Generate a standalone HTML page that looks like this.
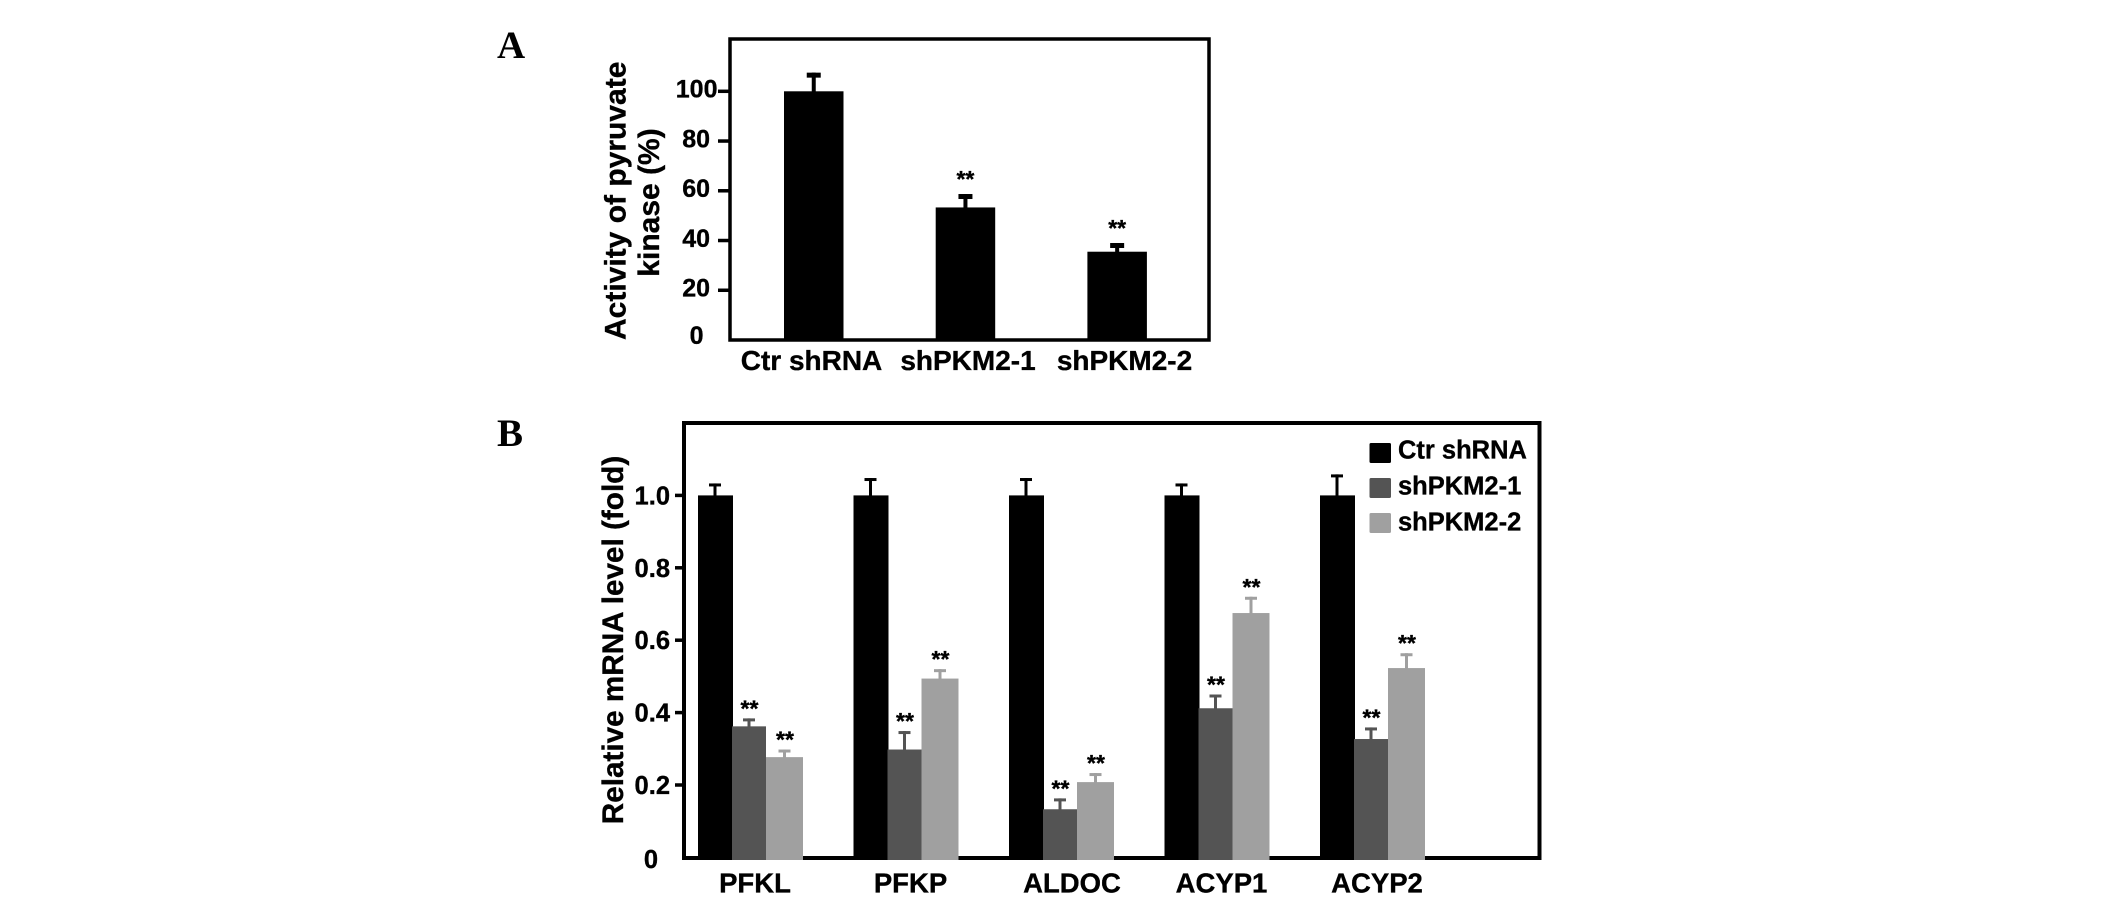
<!DOCTYPE html>
<html lang="en">
<head>
<meta charset="utf-8">
<title>Pyruvate kinase activity and relative mRNA level</title>
<style>
html,body{margin:0;padding:0;background:#fff;}
body{width:2126px;height:903px;overflow:hidden;}
svg{display:block;}
text{font-family:"Liberation Sans",Arial,sans-serif;font-weight:700;fill:#000;stroke:#000;stroke-width:0.35px;}
.panel{font-family:"Liberation Serif","Times New Roman",serif;font-size:39px;stroke-width:0;}
</style>
</head>
<body>
<svg id="figure" xmlns="http://www.w3.org/2000/svg" width="2126" height="903" viewBox="0 0 2126 903">
  <text class="panel" x="497" y="58">A</text>
  <text class="panel" x="497" y="446">B</text>
  <g id="chart-a"></g>
  <g id="chart-b"></g>
</svg>
<script>
// Panel A data
const catsA = ['Ctr shRNA', 'shPKM2-1', 'shPKM2-2'];
const valuesA = [100, 53.3, 35.5];
const errorTopsA = [107.5, 58.7, 39];
const sigA = [false, true, true];
const ticksA = [0, 20, 40, 60, 80, 100];

// Panel B data
const catsB = ['PFKL', 'PFKP', 'ALDOC', 'ACYP1', 'ACYP2'];
const seriesNames = ['Ctr shRNA', 'shPKM2-1', 'shPKM2-2'];
const ctrValues = [1, 1, 1, 1, 1];
const ctrErrorTops = [1.033, 1.048, 1.048, 1.033, 1.058];
const pkm1Values = [0.362, 0.298, 0.133, 0.412, 0.327];
const pkm1ErrorTops = [0.384, 0.349, 0.163, 0.45, 0.359];
const pkm2Values = [0.277, 0.494, 0.208, 0.675, 0.523];
const pkm2ErrorTops = [0.298, 0.52, 0.233, 0.72, 0.564];
const ticksB = [0, 0.2, 0.4, 0.6, 0.8, 1.0];

const SVGNS = 'http://www.w3.org/2000/svg';
const DARK = '#545454', LIGHT = '#a0a0a0';

function rect(parent, x, y, w, h, fill) {
  const r = document.createElementNS(SVGNS, 'rect');
  r.setAttribute('x', x); r.setAttribute('y', y);
  r.setAttribute('width', w); r.setAttribute('height', h);
  r.setAttribute('fill', fill);
  parent.appendChild(r);
  return r;
}
function label(parent, str, x, y, size, anchor, rotate) {
  const t = document.createElementNS(SVGNS, 'text');
  t.textContent = str;
  t.setAttribute('x', x); t.setAttribute('y', y);
  t.setAttribute('font-size', size);
  t.setAttribute('text-anchor', anchor);
  if (rotate) t.setAttribute('transform', 'rotate(-90 ' + x + ' ' + y + ')');
  parent.appendChild(t);
  return t;
}
function errorBar(parent, cx, yTop, yBase, capW, capH, stemW, color) {
  const s = rect(parent, cx - stemW / 2, yTop, stemW, yBase - yTop + 1, color);
  
  
  const c = rect(parent, cx - capW / 2, yTop, capW, capH, color);
  
  
}
function frame(parent, l, t, r, b, w) {
  const f = document.createElementNS(SVGNS, 'rect');
  f.setAttribute('x', l); f.setAttribute('y', t);
  f.setAttribute('width', r - l); f.setAttribute('height', b - t);
  f.setAttribute('fill', 'none');
  f.setAttribute('stroke', '#000');
  f.setAttribute('stroke-width', w);
  
  
  parent.appendChild(f);
}

/* ---------- Panel A ---------- */
const gA = document.getElementById('chart-a');
const yA = v => 340 - v * 2.487;
const xA = i => 784 + i * 151.7;
const barWA = 59.5;

frame(gA, 730, 39, 1209, 340, 3.5);

ticksA.forEach(function (v) {
  if (v !== 0) {
    const tk = rect(gA, 718, yA(v) - 1.75, 11, 3.5, '#000');
    
    
  }
  const lx = v === 100 ? 717.5 : (v === 0 ? 703.5 : 710);
  const t = label(gA, String(v), lx, yA(v) + (v === 0 ? 4 : 6.3), 25, 'end');
  
  
});

catsA.forEach(function (c, i) {
  const b = rect(gA, xA(i), yA(valuesA[i]), barWA, 340 - yA(valuesA[i]), '#000');
  
  
  const cx = xA(i) + barWA / 2;
  errorBar(gA, cx, yA(errorTopsA[i]), yA(valuesA[i]), 14, 5, 4, '#000');
  if (sigA[i]) {
    const s = label(gA, '**', cx, yA(errorTopsA[i]) - 7, 23, 'middle');
    
    
  }
  const t = label(gA, c, 811.5 + i * 156.5, 370, 28, 'middle');
  
  
});

const titleA1 = label(gA, 'Activity of pyruvate', 625.5, 340, 30, 'start', true);


const titleA2 = label(gA, 'kinase (%)', 659, 202.5, 30, 'middle', true);



/* ---------- Panel B ---------- */
const gB = document.getElementById('chart-b');
const yB = v => 857.4 - v * 362;
const groupX = i => 698 + i * 155.5;
const barWB = 34;
const lightW = 37;

frame(gB, 684, 423, 1539.5, 858, 4);

ticksB.forEach(function (v) {
  if (v !== 0) {
    const tk = rect(gB, 675, yB(v) - 1.75, 9, 3.5, '#000');
    
    
  }
  const txt = v === 0 ? '0' : v.toFixed(1);
  const t = label(gB, txt, v === 0 ? 658 : 670, yB(v) + (v === 0 ? 10.5 : 9), 25.5, 'end');
  
  
});

catsB.forEach(function (c, i) {
  const g0 = groupX(i);
  const b0 = rect(gB, g0, yB(ctrValues[i]), barWB + 1, 858 - yB(ctrValues[i]), '#000');
  
  
  errorBar(gB, g0 + barWB / 2, yB(ctrErrorTops[i]), yB(ctrValues[i]), 12, 3, 3, '#000');

  const b1 = rect(gB, g0 + barWB, yB(pkm1Values[i]), barWB, 860 - yB(pkm1Values[i]), DARK);
  
  
  errorBar(gB, g0 + barWB * 1.5, yB(pkm1ErrorTops[i]), yB(pkm1Values[i]), 12, 3, 3, DARK);
  const s1 = label(gB, '**', g0 + barWB * 1.5 + 0.5, yB(pkm1ErrorTops[i]) - 2, 23, 'middle');
  
  

  const b2 = rect(gB, g0 + barWB * 2, yB(pkm2Values[i]), lightW, 860 - yB(pkm2Values[i]), LIGHT);
  
  
  errorBar(gB, g0 + barWB * 2 + lightW / 2, yB(pkm2ErrorTops[i]), yB(pkm2Values[i]), 12, 3, 3, LIGHT);
  const s2 = label(gB, '**', g0 + barWB * 2 + lightW / 2 + 0.5, yB(pkm2ErrorTops[i]) - 2, 23, 'middle');
  
  

  const t = label(gB, c, g0 + 57 + (c === 'ALDOC' ? 6 : 0), 892.5, 27.5, 'middle');
  
  
});

const titleB = label(gB, 'Relative mRNA level (fold)', 623, 640, 29.7, 'middle', true);



const legendColors = ['#000', DARK, LIGHT];
seriesNames.forEach(function (n, i) {
  const top = 443 + i * 35;
  const sw = rect(gB, 1369.5, top, 21.5, 20, legendColors[i]);
  sw.setAttribute('rx', 1.5);
  
  
  const t = label(gB, n, 1398, 458.5 + i * 36, 25.5, 'start');
  
  
});
</script>
</body>
</html>
